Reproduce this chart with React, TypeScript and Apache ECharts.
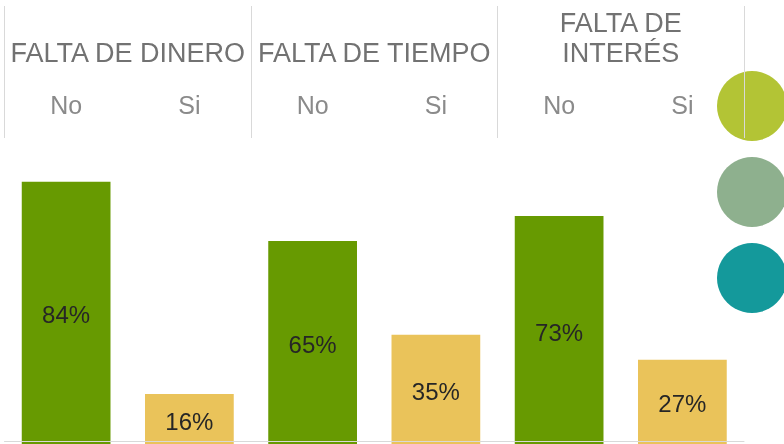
import React, { useEffect, useRef } from "react";
import * as echarts from "echarts";

const groups = ["FALTA DE DINERO", "FALTA DE TIEMPO", "FALTA DE\nINTERÉS"];
const answers = ["No", "Si"];
const noValues = [84, 65, 73];
const siValues = [16, 35, 27];
const colors = { No: "#679A01", Si: "#EAC35A" };
const circleColors = ["#B3C435", "#8EB08E", "#14999B"];

export default function App() {
  const ref = useRef<HTMLDivElement>(null);
  useEffect(() => {
    document.body.style.margin = "0";
    const chart = echarts.init(ref.current!, null, { renderer: "svg" });
    const categories: string[] = [];
    const data: any[] = [];
    groups.forEach((g, i) => {
      categories.push(answers[0], answers[1]);
      data.push({ value: noValues[i], itemStyle: { color: colors.No } });
      data.push({ value: siValues[i], itemStyle: { color: colors.Si } });
    });
    const font = "Liberation Sans, Arial, sans-serif";
    chart.setOption({
      animation: false,
      grid: { left: 4.5, right: 40, top: 138, bottom: -2, containLabel: false },
      xAxis: [
        {
          type: "category",
          data: categories,
          position: "top",
          axisLine: { show: false },
          axisTick: { show: false },
          axisLabel: {
            interval: 0,
            margin: 21,
            fontSize: 25,
            lineHeight: 25,
            color: "#8a8a8a",
            fontFamily: font,
          },
        },
        {
          type: "category",
          data: groups,
          position: "top",
          axisLine: { show: false },
          axisTick: { show: true, length: 132, lineStyle: { color: "#d9d9d9", width: 1 } },
          axisLabel: {
            interval: 0,
            margin: 70,
            fontSize: 27,
            lineHeight: 30,
            color: "#727272",
            fontFamily: font,
          },
        },
        {
          type: "category",
          data: categories,
          position: "bottom",
          offset: -3,
          z: 5,
          axisLine: { show: true, lineStyle: { color: "#d9d9d9", width: 1 } },
          axisTick: { show: false },
          axisLabel: { show: false },
        },
      ],
      yAxis: { type: "value", min: 0, max: 98, show: false, splitLine: { show: false } },
      graphic: circleColors.map((c, i) => ({
        type: "circle",
        z: -10,
        shape: { cx: 752, cy: 106 + i * 86, r: 35 },
        style: { fill: c },
      })),
      series: [
        {
          type: "bar",
          xAxisIndex: 0,
          data,
          barCategoryGap: "28%",
          label: {
            show: true,
            position: "inside",
            offset: [0, 2],
            formatter: "{c}%",
            fontSize: 24,
            color: "#262626",
            fontFamily: font,
          },
        },
      ],
    });
    return () => chart.dispose();
  }, []);
  return <div ref={ref} style={{ position: "fixed", left: 0, top: 0, width: 784, height: 444 }} />;
}
